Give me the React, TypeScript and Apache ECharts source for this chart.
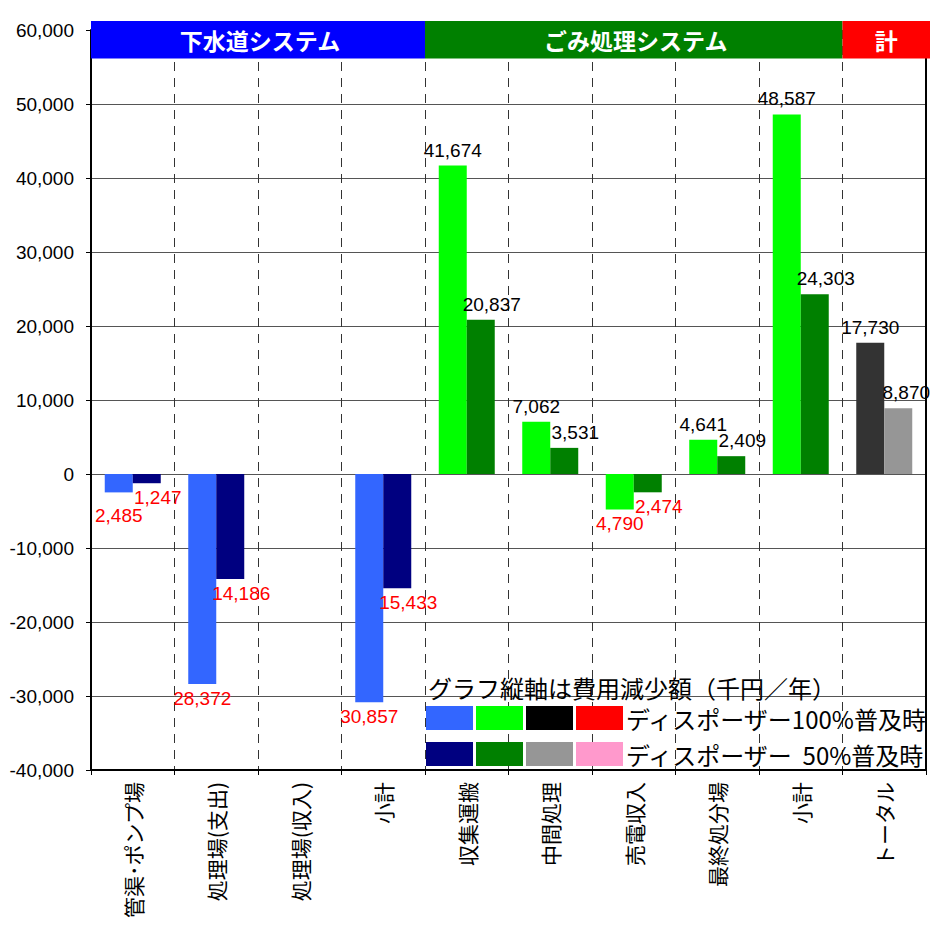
import React, { useEffect, useRef } from "react";
import * as echarts from "echarts";

// Cost reduction per item (thousand yen / year)
const categories = [
  "管渠･ポンプ場",
  "処理場(支出)",
  "処理場(収入)",
  "小計",
  "収集運搬",
  "中間処理",
  "売電収入",
  "最終処分場",
  "小計",
  "トータル",
];
const systems = ["sewer", "sewer", "sewer", "sewer", "waste", "waste", "waste", "waste", "waste", "total"];
const systemNames: Record<string, string> = {
  sewer: "下水道システム",
  waste: "ごみ処理システム",
  total: "計",
};
const fullAdoption = [-2485, -28372, null, -30857, 41674, 7062, -4790, 4641, 48587, 17730];
const halfAdoption = [-1247, -14186, null, -15433, 20837, 3531, -2474, 2409, 24303, 8870];
const yMin = -40000;
const yMax = 60000;
const yStep = 10000;
const legendTitle = "グラフ縦軸は費用減少額（千円／年）";
const legendRows = ["ディスポーザー100%普及時", "ディスポーザー  50%普及時"];

// styling
const palette: Record<string, Record<string, string>> = {
  full: { sewer: "#3366FF", waste: "#00FF00", total: "#333333" },
  half: { sewer: "#000080", waste: "#008000", total: "#969696" },
};
const bandColors: Record<string, string> = { sewer: "#0000FF", waste: "#008000", total: "#FF0000" };
const legendSwatches = [
  ["#3366FF", "#00FF00", "#000000", "#FF0000"],
  ["#000080", "#008000", "#969696", "#FF99CC"],
];
const NUM_FONT = "'Liberation Sans', Arial, sans-serif";
const JP_FONT = "'Noto Sans CJK JP', sans-serif";

const W = 930;
const H = 932;
const GRID = { left: 91, right: 4, top: 30, bottom: 162 };

// extra label shift for crowded labels
const labelNudge: Record<string, Record<number, number[]>> = {
  full: { 0: [0, 9] },
  half: { 9: [-3, 0] },
};

function buildData(values: (number | null)[], key: string, dx: number) {
  return values.map((v, i) => {
    if (v == null) return null;
    const pos = v >= 0;
    const nudge = labelNudge[key][i] || [0, 0];
    return {
      value: v,
      itemStyle: { color: palette[key][systems[i]] },
      label: {
        position: pos ? "top" : "bottom",
        distance: pos ? 6 : 5,
        color: pos ? "#000000" : "#FF0000",
        offset: [dx + nudge[0], nudge[1]],
      },
    };
  });
}

function buildGraphics() {
  const plotW = W - GRID.left - GRID.right;
  const catW = plotW / categories.length;
  const els: any[] = [];
  // header bands over each system's categories
  let start = 0;
  for (let i = 1; i <= systems.length; i++) {
    if (i === systems.length || systems[i] !== systems[start]) {
      const x0 = GRID.left + start * catW;
      const x1 = i === systems.length ? W : GRID.left + i * catW;
      const sys = systems[start];
      els.push({
        type: "rect",
        z: 100,
        shape: { x: x0, y: 21, width: x1 - x0, height: 37.5 },
        style: { fill: bandColors[sys] },
      });
      els.push({
        type: "text",
        z: 101,
        x: (GRID.left + start * catW + GRID.left + i * catW) / 2 + 2,
        y: 40,
        style: {
          text: systemNames[sys],
          fill: "#FFFFFF",
          font: `bold 23px ${JP_FONT}`,
          align: "center",
          verticalAlign: "middle",
        },
      });
      start = i;
    }
  }
  // legend
  els.push({
    type: "text",
    z: 100,
    x: 428,
    y: 687,
    style: { text: legendTitle, fill: "#000", font: `24px ${JP_FONT}`, align: "left", verticalAlign: "middle" },
  });
  legendSwatches.forEach((row, r) => {
    const y = 706 + r * 36;
    row.forEach((c, k) => {
      els.push({
        type: "rect",
        z: 100,
        shape: { x: 426 + k * 50, y, width: 47, height: 24 },
        style: { fill: c },
      });
    });
    els.push({
      type: "text",
      z: 100,
      x: 626,
      y: y + 12,
      style: { text: legendRows[r], fill: "#000", font: `24px ${JP_FONT}`, align: "left", verticalAlign: "middle" },
    });
  });
  return els;
}

export default function App() {
  const ref = useRef<HTMLDivElement>(null);

  useEffect(() => {
    if (!ref.current) return;
    const chart = echarts.init(ref.current, null, { renderer: "svg" });
    const fmt = (p: any) => Math.abs(p.value).toLocaleString("en-US");
    const yAxisBase = {
      type: "value" as const,
      min: yMin,
      max: yMax,
      interval: yStep,
    };
    chart.setOption({
      animation: false,
      backgroundColor: "#FFFFFF",
      grid: { ...GRID, containLabel: false },
      xAxis: {
        type: "category",
        data: categories,
        boundaryGap: true,
        axisLine: { show: true, onZero: false, lineStyle: { color: "#000", width: 2 } },
        axisTick: { show: true, length: 5, interval: 0, lineStyle: { color: "#000" } },
        axisLabel: {
          interval: 0,
          rotate: 90,
          margin: 12,
          color: "#000",
          fontSize: 21,
          fontFamily: JP_FONT,
        },
        splitLine: {
          show: true,
          interval: 0,
          lineStyle: { color: "#333", width: 1, type: [9, 7] },
        },
      },
      yAxis: [
        {
          ...yAxisBase,
          axisLine: { show: true, lineStyle: { color: "#000", width: 2 } },
          axisTick: { show: true, length: 5, lineStyle: { color: "#000" } },
          axisLabel: {
            margin: 17,
            color: "#000",
            fontSize: 19,
            fontFamily: NUM_FONT,
            formatter: (v: number) => v.toLocaleString("en-US"),
          },
          splitLine: { show: true, lineStyle: { color: "#555", width: 1 } },
        },
        {
          ...yAxisBase,
          position: "right",
          axisLine: { show: true, lineStyle: { color: "#000", width: 2 } },
          axisTick: { show: false },
          axisLabel: { show: false },
          splitLine: { show: false },
        },
      ],
      series: [
        {
          name: legendRows[0],
          type: "bar",
          barWidth: 28,
          barGap: "0%",
          data: buildData(fullAdoption, "full", 0),
          label: { show: true, fontSize: 19, fontFamily: NUM_FONT, formatter: fmt },
        },
        {
          name: legendRows[1],
          type: "bar",
          barWidth: 28,
          barGap: "0%",
          data: buildData(halfAdoption, "half", 11),
          label: { show: true, fontSize: 19, fontFamily: NUM_FONT, formatter: fmt },
        },
      ],
      graphic: buildGraphics(),
    });
    return () => chart.dispose();
  }, []);

  return (
    <div
      ref={ref}
      style={{ position: "fixed", left: 0, top: 0, width: W, height: H, background: "#fff" }}
    />
  );
}
